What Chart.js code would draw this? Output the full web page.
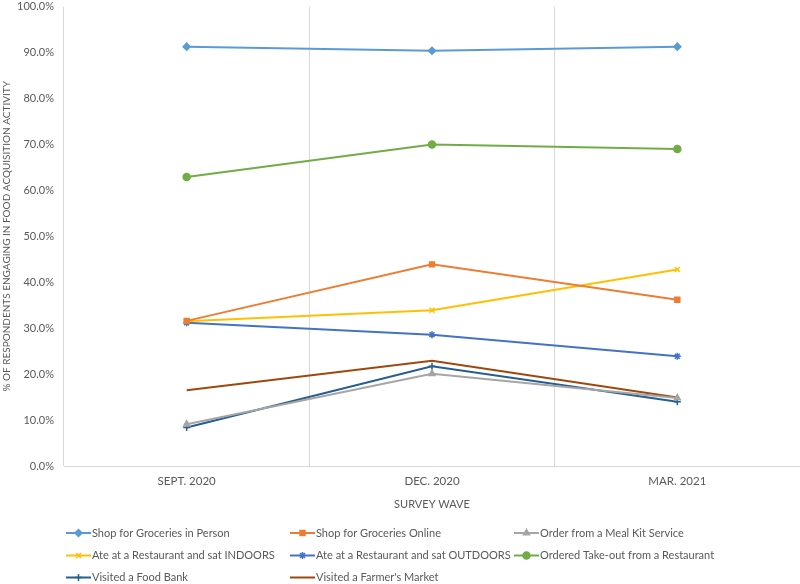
<!DOCTYPE html>
<html>
<head>
<meta charset="utf-8">
<script src="https://cdn.jsdelivr.net/npm/chart.js@4/dist/chart.umd.min.js"></script>
<style>
  html, body { margin: 0; padding: 0; background: #fff; }
  #wrap { width: 800px; height: 584px; position: relative; }
</style>
</head>
<body>
<div id="wrap"><canvas id="lineChart"></canvas></div>
<script>
// Survey waves (x categories)
const waves = ['SEPT. 2020', 'DEC. 2020', 'MAR. 2021'];

// % of respondents per activity
const groceriesInPerson = [91.3, 90.4, 91.3];
const groceriesOnline   = [31.6, 43.9, 36.2];
const mealKit           = [9.1, 20.1, 14.8];
const restaurantIndoors = [31.5, 33.9, 42.8];
const restaurantOutdoor = [31.2, 28.6, 23.9];
const takeOut           = [62.9, 70.0, 69.0];
const foodBank          = [8.4, 21.7, 14.0];
const farmersMarket     = [16.5, 22.9, 14.9];

const textColor = '#595959';
const fontFamily = 'Lato, "Liberation Sans", sans-serif';

function series(label, data, color, style) {
  return {
    label: label,
    data: data,
    borderColor: color,
    backgroundColor: color,
    borderWidth: 2,
    pointStyle: style || false,
    pointRadius: style ? 3.5 : 0,
    pointBorderWidth: 1.5,
    pointHoverRadius: 3.5,
    tension: 0
  };
}

const lineData = {
  labels: waves,
  datasets: [
    series('Shop for Groceries in Person', groceriesInPerson, '#5B9BD5', 'rectRot'),
    series('Shop for Groceries Online', groceriesOnline, '#ED7D31', 'rect'),
    series('Order from a Meal Kit Service', mealKit, '#A5A5A5', 'triangle'),
    series('Ate at a Restaurant and sat INDOORS', restaurantIndoors, '#FFC000', 'crossRot'),
    series('Ate at a Restaurant and sat OUTDOORS', restaurantOutdoor, '#4472C4', 'star'),
    series('Ordered Take-out from a Restaurant', takeOut, '#70AD47', 'circle'),
    series('Visited a Food Bank', foodBank, '#255E91', 'cross'),
    series("Visited a Farmer's Market", farmersMarket, '#9E480E', null)
  ]
};

// legend in three fixed columns under the axis, like the original
const gridLegend = {
  id: 'gridLegend',
  afterDraw(chart) {
    const ctx = chart.ctx;
    const colX = [66, 290, 514];
    const rowY = [533, 555.5, 577.5];
    ctx.save();
    ctx.font = '11px ' + fontFamily;
    ctx.textBaseline = 'middle';
    ctx.textAlign = 'left';
    chart.data.datasets.forEach((ds, i) => {
      const x = colX[i % 3];
      const y = rowY[Math.floor(i / 3)];
      ctx.strokeStyle = ds.borderColor;
      ctx.fillStyle = ds.backgroundColor;
      ctx.lineWidth = 2;
      ctx.beginPath();
      ctx.moveTo(x, y);
      ctx.lineTo(x + 25, y);
      ctx.stroke();
      if (ds.pointStyle) {
        ctx.lineWidth = 1.5;
        Chart.helpers.drawPoint(ctx, {
          pointStyle: ds.pointStyle, radius: 3.5, rotation: 0, borderWidth: 1.5
        }, x + 12.5, y);
      }
      ctx.fillStyle = textColor;
      ctx.fillText(ds.label, x + 26, y);
    });
    ctx.restore();
  }
};

const lineOptions = {
  responsive: true,
  maintainAspectRatio: false,
  animation: false,
  layout: { autoPadding: false, padding: { top: 0, right: 0, bottom: 73, left: 0 } },
  plugins: {
    legend: { display: false },
    tooltip: { enabled: false }
  },
  scales: {
    x: {
      offset: true,
      grid: { display: true, offset: true, color: '#D9D9D9', lineWidth: 1, drawTicks: false },
      border: { display: true, color: '#D9D9D9' },
      ticks: { color: textColor, padding: 8, font: { family: fontFamily, size: 11.5 } },
      title: {
        display: true, text: 'SURVEY WAVE', color: textColor,
        padding: { top: 0, bottom: 0 }, font: { family: fontFamily, size: 11 }
      },
      afterFit(scale) {
        scale.height = 45;
        scale.paddingLeft = 0;
        scale.paddingRight = 0;
      }
    },
    y: {
      min: 0,
      max: 100,
      grid: { display: false, drawTicks: false },
      border: { display: false },
      ticks: {
        stepSize: 10, color: textColor, padding: 10,
        font: { family: fontFamily, size: 11 },
        callback: v => v.toFixed(1) + '%'
      },
      title: {
        display: true, text: '% OF RESPONDENTS ENGAGING IN FOOD ACQUISITION ACTIVITY',
        color: textColor, padding: { top: 1, bottom: 0 },
        font: { family: fontFamily, size: 10 }
      },
      afterFit(scale) {
        scale.width = 64;
        scale.paddingTop = 6.7;
        scale.paddingBottom = 0;
      }
    }
  }
};

const lineCanvas = document.getElementById('lineChart');
const lineChart = new Chart(lineCanvas, {
  type: 'line',
  data: lineData,
  options: lineOptions,
  plugins: [gridLegend]
});
</script>
</body>
</html>
